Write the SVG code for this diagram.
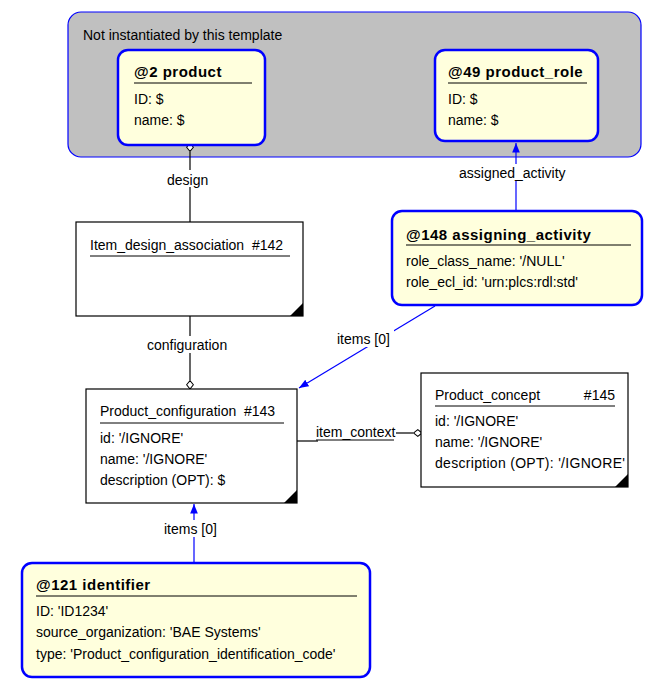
<svg xmlns="http://www.w3.org/2000/svg" width="651" height="685" viewBox="0 0 651 685">
<defs>
<style>
text{font-family:"Liberation Sans",Arial,sans-serif;font-size:14px;fill:#000}
.b{font-weight:bold;font-size:15px;letter-spacing:0.5px}
.tpl{fill:#ffffdd;stroke:#0000ff;stroke-width:2.5}
.ent{fill:#fff;stroke:#000;stroke-width:1.2}
.ul{stroke:#000;stroke-width:1}
.c{fill:none;stroke:#000;stroke-width:1.2}
.cb{fill:none;stroke:#0000ff;stroke-width:1.2}
</style>
<marker id="ab" viewBox="0 0 10 10" refX="10" refY="5" markerWidth="8" markerHeight="8" orient="auto-start-reverse"><path d="M0,1 L10,5 L0,9 z" fill="#0000ff"/></marker>
<marker id="dm" viewBox="0 0 10 10" refX="10" refY="5" markerWidth="7" markerHeight="7" orient="auto"><path d="M0,5 L5,1 L10,5 L5,9 z" fill="#fff" stroke="#000" stroke-width="1.2"/></marker>
</defs>
<g id="template-area">
<rect x="68" y="12" width="573" height="145" rx="13" fill="#c0c0c0" stroke="#0000ff" stroke-width="1.2"/>
<text x="83" y="40">Not instantiated by this template</text>
</g>
<g id="connectors">
<line class="c" x1="190" y1="222" x2="190" y2="143" marker-end="url(#dm)"/>
<rect x="165" y="170" width="50" height="17" fill="#fff"/>
<text x="167" y="185">design</text>
<line class="c" x1="190" y1="316" x2="190" y2="389" marker-end="url(#dm)"/>
<rect x="145" y="336" width="90" height="17" fill="#fff"/>
<text x="147" y="350">configuration</text>
<line class="cb" x1="435" y1="306" x2="299" y2="388" marker-end="url(#ab)"/>
<rect x="336" y="330" width="58" height="17" fill="#fff"/>
<text x="337" y="344">items [0]</text>
<line class="cb" x1="516" y1="211" x2="516" y2="143" marker-end="url(#ab)"/>
<rect x="458" y="164" width="116" height="17" fill="#fff"/>
<text x="459" y="178">assigned_activity</text>
<line class="cb" x1="194" y1="563" x2="194" y2="504" marker-end="url(#ab)"/>
<rect x="163" y="520" width="58" height="17" fill="#fff"/>
<text x="164" y="534">items [0]</text>
<polyline class="c" points="297,441 318,441"/>
<text x="316" y="437">item_context</text>
<line class="ul" x1="316" y1="440" x2="394" y2="440"/>
<line class="c" x1="396" y1="433" x2="422" y2="433" marker-end="url(#dm)"/>
</g>
<g id="n2">
<rect class="tpl" x="118" y="50" width="147" height="95" rx="10"/>
<text class="b" x="134" y="77">@2 product</text>
<line class="ul" x1="134" y1="83" x2="252" y2="83"/>
<text x="134" y="104">ID: $</text>
<text x="134" y="125">name: $</text>
</g>
<g id="n49">
<rect class="tpl" x="435" y="50" width="163" height="91" rx="10"/>
<text class="b" x="448" y="77">@49 product_role</text>
<line class="ul" x1="448" y1="83" x2="587" y2="83"/>
<text x="448" y="104">ID: $</text>
<text x="448" y="125">name: $</text>
</g>
<g id="n142">
<rect class="ent" x="76" y="222" width="227" height="94"/>
<text x="90" y="250" xml:space="preserve">Item_design_association  #142</text>
<line class="ul" x1="90" y1="256" x2="290" y2="256"/>
<path d="M303,316 L303,303 L290,316 z"/>
</g>
<g id="n148">
<rect class="tpl" x="392" y="211" width="250" height="94" rx="10"/>
<text class="b" x="406" y="240">@148 assigning_activity</text>
<line class="ul" x1="406" y1="245" x2="631" y2="245"/>
<text x="406" y="266">role_class_name: '/NULL'</text>
<text x="406" y="287">role_ecl_id: 'urn:plcs:rdl:std'</text>
</g>
<g id="n143">
<rect class="ent" x="86" y="389" width="211" height="114"/>
<text x="100" y="416" xml:space="preserve">Product_configuration  #143</text>
<line class="ul" x1="100" y1="423" x2="284" y2="423"/>
<text x="100" y="443">id: '/IGNORE'</text>
<text x="100" y="464">name: '/IGNORE'</text>
<text x="100" y="485">description (OPT): $</text>
<path d="M297,503 L297,490 L284,503 z"/>
</g>
<g id="n145">
<rect class="ent" x="421" y="373" width="207" height="114"/>
<text x="435" y="400">Product_concept</text>
<text x="615" y="400" text-anchor="end">#145</text>
<line class="ul" x1="435" y1="406" x2="615" y2="406"/>
<text x="435" y="426">id: '/IGNORE'</text>
<text x="435" y="447">name: '/IGNORE'</text>
<text x="435" y="468" textLength="190">description (OPT): '/IGNORE'</text>
<path d="M628,487 L628,474 L615,487 z"/>
</g>
<g id="n121">
<rect class="tpl" x="22" y="563" width="348" height="114" rx="10"/>
<text class="b" x="36" y="590">@121 identifier</text>
<line class="ul" x1="36" y1="596" x2="357" y2="596"/>
<text x="36" y="616">ID: 'ID1234'</text>
<text x="36" y="637">source_organization: 'BAE Systems'</text>
<text x="36" y="659">type: 'Product_configuration_identification_code'</text>
</g>
</svg>
